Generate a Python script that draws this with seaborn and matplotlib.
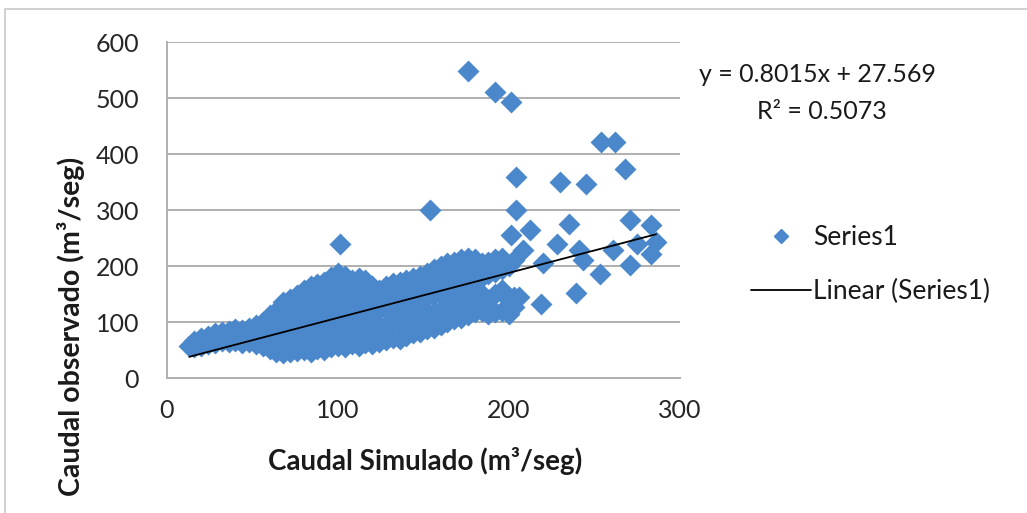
import numpy as np
import pandas as pd
import matplotlib
matplotlib.use("Agg")
import matplotlib.pyplot as plt
import seaborn as sns
from matplotlib.lines import Line2D

caudal_simulado = [
    13, 16, 16, 20, 20, 24, 24, 28, 28, 32, 32, 36, 36, 40, 40, 44, 44, 48, 48,
    52, 52, 52, 56, 56, 56, 60, 60, 60, 60, 64, 64, 64, 64,
    68, 68, 68, 68, 68, 72, 72, 72, 72, 72, 76, 76, 76, 76, 76,
    80, 80, 80, 80, 80, 84, 84, 84, 84, 84, 84, 88, 88, 88, 88, 88,
    92, 92, 92, 92, 92, 92, 96, 96, 96, 96, 96, 96,
    100, 100, 100, 100, 100, 100, 101, 104, 104, 104, 104, 104, 104,
    108, 108, 108, 108, 108, 112, 112, 112, 112, 112, 112,
    116, 116, 116, 116, 116, 120, 120, 120, 120, 120,
    124, 124, 124, 124, 124, 128, 128, 128, 128, 128,
    132, 132, 132, 132, 132, 136, 136, 136, 136, 136,
    140, 140, 140, 140, 140, 144, 144, 144, 144, 144,
    148, 148, 148, 148, 148, 152, 152, 152, 152, 152,
    156, 156, 156, 156, 156, 160, 160, 160, 160, 160,
    164, 164, 164, 164, 164, 168, 168, 168, 168, 168,
    172, 172, 172, 172, 172, 176, 176, 176, 176, 176,
    180, 180, 180, 180, 180, 184, 184, 184, 184,
    188, 188, 188, 188, 192, 192, 192, 192, 196, 196, 196, 196,
    200, 200, 200, 203, 203, 203,
    176, 192, 201, 204, 204, 154, 230, 245, 254, 262, 268,
    271, 283, 286, 283, 271, 261, 253, 239, 235, 228, 241, 243,
    219, 212, 201, 208, 206, 196, 220, 275, 193,
]
caudal_observado = [
    57, 55, 66, 58, 72, 60, 76, 62, 80, 66, 82, 64, 84, 66, 88, 63, 86, 65, 90,
    60, 78, 95, 58, 80, 100, 52, 75, 98, 112, 46, 68, 92, 120,
    45, 70, 95, 118, 135, 47, 72, 100, 125, 142, 48, 70, 95, 120, 148,
    50, 75, 105, 130, 158, 47, 72, 98, 125, 150, 165, 52, 80, 110, 140, 168,
    50, 76, 102, 130, 155, 172, 55, 82, 108, 135, 160, 180,
    58, 85, 115, 145, 170, 188, 240, 55, 80, 110, 140, 165, 182,
    60, 88, 118, 150, 175, 58, 85, 112, 140, 168, 178,
    62, 90, 120, 150, 176, 60, 88, 115, 142, 165,
    65, 92, 122, 150, 158, 68, 95, 125, 152, 165,
    72, 100, 128, 155, 170, 70, 98, 126, 150, 172,
    75, 105, 132, 160, 175, 80, 108, 135, 162, 178,
    82, 110, 140, 168, 182, 88, 115, 145, 172, 188,
    90, 118, 148, 175, 195, 95, 122, 150, 180, 200,
    100, 128, 155, 185, 205, 105, 130, 160, 188, 208,
    108, 135, 165, 192, 212, 112, 140, 170, 195, 215,
    118, 145, 175, 200, 212, 120, 150, 180, 205,
    115, 140, 185, 208, 118, 150, 190, 212, 120, 157, 195, 215,
    115, 140, 200, 127, 145, 210,
    548, 511, 493, 359, 301, 301, 350, 346, 421, 421, 374,
    282, 274, 243, 222, 202, 228, 185, 152, 276, 240, 228, 211,
    133, 264, 255, 228, 145, 157, 205, 240, 199,
]

# trendline as printed on the chart
pendiente = 0.8015
intercepto = 27.569
r2 = 0.5073

x_ticks = [0, 100, 200, 300]
y_ticks = [0, 100, 200, 300, 400, 500, 600]

df = pd.DataFrame({"sim": caudal_simulado, "obs": caudal_observado})

sns.set_theme(style="white")
plt.rcParams["font.family"] = ["Lato", "DejaVu Sans"]

azul = "#4A88CB"
gris = "#AFAFAF"
texto = "#1a1a1a"

fig = plt.figure(figsize=(10.27, 5.13), dpi=100)
ax = fig.add_axes([0.1626, 0.263, 0.4995, 0.655])

sns.scatterplot(data=df, x="sim", y="obs", marker="D", s=125, color=azul,
                linewidth=0, ax=ax, zorder=3, legend=False)

x_fit = np.array([df["sim"].min(), df["sim"].max()])
ax.plot(x_fit, pendiente * x_fit + intercepto, color="black", lw=1.3, zorder=4)

ax.set_xlim(0, 300)
ax.set_ylim(0, 600)
ax.set_xticks(x_ticks)
ax.set_yticks(y_ticks)
ax.tick_params(axis="both", labelsize=18, colors="#262626", length=6,
               width=1, direction="out", color=gris)
ax.tick_params(axis="y", pad=14)
ax.tick_params(axis="x", pad=9)
ax.yaxis.grid(True, color=gris, lw=1.4)
ax.set_axisbelow(True)
for s in ["top", "right"]:
    ax.spines[s].set_visible(False)
for s in ["left", "bottom"]:
    ax.spines[s].set_color(gris)
    ax.spines[s].set_linewidth(1.4)

ax.set_xlabel("Caudal Simulado (m³/seg)", fontsize=20, fontweight="bold",
              color=texto)
ax.set_ylabel("Caudal observado (m³/seg)", fontsize=20.5, fontweight="bold",
              color=texto)
ax.xaxis.set_label_coords(0.503, -0.205)
ax.yaxis.set_label_coords(-0.16, 0.155)

fig.text(0.796, 0.854, f"y = {pendiente}x + {intercepto}", fontsize=18,
         ha="center", va="center", color=texto)
fig.text(0.80, 0.782, f"R² = {r2}", fontsize=18, ha="center", va="center",
         color=texto)

handles = [
    Line2D([], [], marker="D", ls="none", color=azul, markersize=7.5),
    Line2D([], [], color="black", lw=1.3),
]
fig.legend(handles, ["Series1", "Linear (Series1)"], loc="center left",
           bbox_to_anchor=(0.708, 0.484), frameon=False, fontsize=19,
           handlelength=2.27, handletextpad=0.1, labelspacing=1.1,
           labelcolor=texto)

# outer chart border (left and top edges visible)
fig.add_artist(plt.Rectangle((5 / 1027, -0.1), 1.2, 1.1 - 9 / 513,
                             transform=fig.transFigure, fill=False,
                             edgecolor="#C8C8C8", lw=1.2))

fig.savefig("out.png", dpi=100)
